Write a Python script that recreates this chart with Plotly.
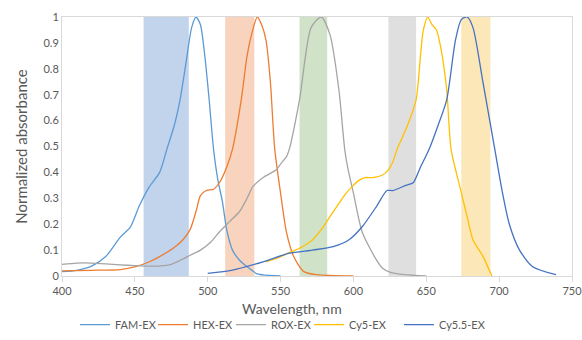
import plotly.graph_objects as go

# ---- data ----
fam_x = [400, 410, 420, 430, 440, 447, 453, 460, 467, 472, 477, 481, 485, 489, 492, 495, 498, 501, 504, 507, 510, 513, 517, 522, 527, 534, 540, 550]
fam_y = [0.017, 0.022, 0.037, 0.075, 0.15, 0.19, 0.27, 0.345, 0.40, 0.49, 0.58, 0.68, 0.82, 0.96, 1.0, 0.97, 0.85, 0.68, 0.49, 0.37, 0.29, 0.18, 0.10, 0.06, 0.036, 0.008, 0.003, 0.0]

hex_x = [400, 420, 440, 450, 460, 467, 477, 483, 488, 492, 495, 499, 504, 508, 513, 517, 523, 527, 530, 534, 537, 540, 543, 546, 550, 554, 559, 566, 575, 600]
hex_y = [0.02, 0.022, 0.025, 0.035, 0.055, 0.075, 0.11, 0.14, 0.18, 0.25, 0.31, 0.33, 0.335, 0.36, 0.42, 0.49, 0.68, 0.85, 0.93, 1.0, 0.97, 0.91, 0.75, 0.49, 0.32, 0.17, 0.075, 0.017, 0.005, 0.0]

rox_x = [400, 410, 420, 430, 440, 450, 460, 470, 475, 481, 488, 495, 502, 508, 515, 522, 527, 531, 538, 547, 551, 554, 556, 563, 571, 578, 584, 590, 594, 596, 600, 606, 616, 620, 625, 635, 650]
rox_y = [0.045, 0.05, 0.05, 0.047, 0.043, 0.04, 0.038, 0.04, 0.045, 0.06, 0.08, 0.10, 0.13, 0.17, 0.21, 0.25, 0.30, 0.345, 0.38, 0.41, 0.44, 0.46, 0.49, 0.68, 0.96, 1.0, 0.93, 0.72, 0.49, 0.42, 0.32, 0.17, 0.06, 0.03, 0.015, 0.005, 0.0]

cy5_x = [540, 548, 556, 564, 572, 578, 584, 590, 595, 600, 604, 608, 613, 620, 624, 627, 630, 637, 643, 646, 648, 651, 654, 657, 660, 664, 667, 673, 678, 682, 689, 695]
cy5_y = [0.055, 0.07, 0.09, 0.11, 0.14, 0.18, 0.23, 0.28, 0.32, 0.35, 0.37, 0.38, 0.38, 0.39, 0.41, 0.44, 0.49, 0.58, 0.68, 0.85, 0.95, 1.0, 0.97, 0.95, 0.88, 0.72, 0.49, 0.345, 0.23, 0.14, 0.075, 0.0]

cy55_x = [500, 517, 538, 556, 572, 586, 597, 606, 616, 623, 627, 636, 641, 646, 652, 658, 664, 670, 674, 678, 682, 689, 697, 702, 707, 714, 723, 739]
cy55_y = [0.01, 0.023, 0.055, 0.088, 0.10, 0.113, 0.14, 0.19, 0.27, 0.33, 0.33, 0.35, 0.36, 0.42, 0.49, 0.58, 0.68, 0.91, 0.99, 1.0, 0.96, 0.745, 0.49, 0.33, 0.2, 0.1, 0.036, 0.005]

series_names = ["FAM-EX", "HEX-EX", "ROX-EX", "Cy5-EX", "Cy5.5-EX"]
series_colors = ["#5B9BD5", "#ED7D31", "#A5A5A5", "#FFC000", "#4472C4"]
series_legends = ["legend", "legend", "legend", "legend", "legend2"]

band_starts = [456, 512, 563, 624, 674]
band_ends = [487, 532, 582, 643, 694]
band_colors = ["rgb(194,211,236)", "rgb(248,211,189)", "rgb(208,227,200)", "rgb(223,223,223)", "rgb(252,231,184)"]

x_ticks = [400, 450, 500, 550, 600, 650, 700, 750]
y_ticks = [0, 0.1, 0.2, 0.3, 0.4, 0.5, 0.6, 0.7, 0.8, 0.9, 1]
y_tick_labels = ["0", "0.1", "0.2", "0.3", "0.4", "0.5", "0.6", "0.7", "0.8", "0.9", "1"]
x_title = "Wavelength, nm"
y_title = "Normalized absorbance"

# ---- figure ----
fig = go.Figure()
all_x = [fam_x, hex_x, rox_x, cy5_x, cy55_x]
all_y = [fam_y, hex_y, rox_y, cy5_y, cy55_y]
for nm, col, xs, ys, lg in zip(series_names, series_colors, all_x, all_y, series_legends):
    fig.add_trace(go.Scatter(x=xs, y=ys, mode="lines", name=nm, legend=lg,
                             line=dict(color=col, width=1.3, shape="spline", smoothing=0.7)))

for s, e, c in zip(band_starts, band_ends, band_colors):
    fig.add_shape(type="rect", xref="x", yref="y", x0=s, x1=e, y0=0, y1=1,
                  fillcolor=c, line=dict(width=0), layer="below")

fig.add_annotation(text=x_title, xref="paper", yref="paper", x=0.451, y=-0.125,
                   xanchor="center", yanchor="middle", showarrow=False,
                   font=dict(size=14, color="#595959"))

font_fam = "Lato, 'Open Sans', sans-serif"
leg_common = dict(orientation="h", y=0.045, yref="container", yanchor="middle",
                  xref="container", xanchor="left",
                  font=dict(size=11, color="#595959"), itemwidth=30,
                  bgcolor="rgba(0,0,0,0)")
fig.update_layout(
    width=582, height=340,
    margin=dict(l=62, r=10, t=17, b=64, autoexpand=False),
    paper_bgcolor="white", plot_bgcolor="white",
    font=dict(family=font_fam, color="#595959", size=11),
    showlegend=True,
    legend=dict(x=75 / 582, entrywidth=33, entrywidthmode="pixels", **leg_common),
    legend2=dict(x=399 / 582, **leg_common),
    xaxis=dict(range=[400, 750], tickvals=x_ticks, showgrid=False, zeroline=False,
               showline=True, linecolor="#D9D9D9", linewidth=1, mirror=True,
               ticks="outside", ticklen=5, tickcolor="#D9D9D9", ticklabeloverflow="allow",
               tickfont=dict(size=11, color="#595959")),
    yaxis=dict(range=[0, 1], tickvals=y_ticks, ticktext=y_tick_labels, showgrid=False,
               zeroline=False, showline=True, linecolor="#D9D9D9", linewidth=1, mirror=True,
               ticks="", tickfont=dict(size=11, color="#595959"),
               title=dict(text=y_title, font=dict(size=15, color="#595959"), standoff=12)),
)

fig.write_html("out.html", config={"displayModeBar": False},
               post_script="document.body.style.margin='0';document.body.style.overflow='hidden';")
